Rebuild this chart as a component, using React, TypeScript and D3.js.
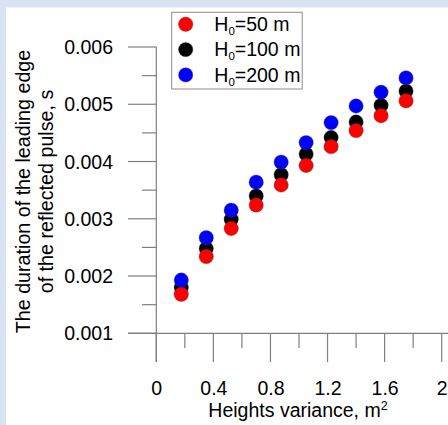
import React, { useEffect, useRef } from "react";
import * as d3 from "d3";

const xValues = [0.175, 0.35, 0.525, 0.7, 0.875, 1.05, 1.225, 1.4, 1.575, 1.75];
const h50 = [0.00168, 0.00234, 0.00283, 0.00324, 0.00359, 0.00393, 0.00426, 0.00454, 0.0048, 0.00506];
const h100 = [0.0018, 0.00248, 0.00299, 0.0034, 0.00377, 0.00413, 0.00442, 0.00469, 0.00498, 0.00523];
const h200 = [0.00193, 0.00267, 0.00315, 0.00364, 0.00399, 0.00433, 0.00468, 0.00497, 0.00521, 0.00546];
const seriesNames = ["50", "100", "200"];
const seriesColors = ["#ff0000", "#000000", "#0000ff"];
const xTicks = [0, 0.4, 0.8, 1.2, 1.6, 2];
const xMinorTicks = [0.2, 0.6, 1.0, 1.4, 1.8];
const yTicks = [0.001, 0.002, 0.003, 0.004, 0.005, 0.006];
const yMinorTicks = [0.0015, 0.0025, 0.0035, 0.0045, 0.0055];

const W = 448;
const H = 425;
const FONT = "Arial, 'Liberation Sans', sans-serif";

export default function App() {
  const ref = useRef<SVGSVGElement>(null);

  useEffect(() => {
    const svg = d3.select(ref.current);
    svg.selectAll("*").remove();

    svg.append("rect").attr("width", W).attr("height", H).attr("fill", "#dae3f3");
    svg.append("rect").attr("x", 6).attr("y", 7.5).attr("width", W - 6).attr("height", H - 7.5).attr("fill", "#ffffff");

    const x = d3.scaleLinear().domain([0, 2]).range([156.3, 441.7]);
    const y = d3.scaleLinear().domain([0.001, 0.006]).range([333.3, 47]);
    const axisColor = "#7f7f7f";

    const g = svg.append("g");
    g.append("line").attr("x1", x(0)).attr("x2", x(0)).attr("y1", y(0.006)).attr("y2", 362)
      .attr("stroke", axisColor).attr("stroke-width", 1.2);
    g.append("line").attr("x1", 128).attr("x2", 448).attr("y1", y(0.001)).attr("y2", y(0.001))
      .attr("stroke", axisColor).attr("stroke-width", 1.2);

    yTicks.forEach((t) => {
      g.append("line").attr("x1", 128).attr("x2", x(0)).attr("y1", y(t)).attr("y2", y(t))
        .attr("stroke", axisColor).attr("stroke-width", 1.2);
      g.append("text").attr("x", 113).attr("y", y(t)).attr("dy", "0.36em")
        .attr("text-anchor", "end").attr("font-family", FONT).attr("font-size", 19.5).attr("fill", "#000")
        .text(d3.format(".3f")(t));
    });
    yMinorTicks.forEach((t) => {
      g.append("line").attr("x1", 142).attr("x2", x(0)).attr("y1", y(t)).attr("y2", y(t))
        .attr("stroke", axisColor).attr("stroke-width", 1.2);
    });
    xTicks.forEach((t) => {
      g.append("line").attr("x1", x(t)).attr("x2", x(t)).attr("y1", y(0.001)).attr("y2", 362)
        .attr("stroke", axisColor).attr("stroke-width", 1.2);
      g.append("text").attr("x", x(t) + 0.5).attr("y", 394.5)
        .attr("text-anchor", "middle").attr("font-family", FONT).attr("font-size", 19.5).attr("fill", "#000")
        .text(String(t));
    });
    xMinorTicks.forEach((t) => {
      g.append("line").attr("x1", x(t)).attr("x2", x(t)).attr("y1", y(0.001)).attr("y2", 348)
        .attr("stroke", axisColor).attr("stroke-width", 1.2);
    });

    const xt = g.append("text").attr("x", 298).attr("y", 416.5).attr("text-anchor", "middle")
      .attr("font-family", FONT).attr("font-size", 19.5).attr("fill", "#000");
    xt.append("tspan").text("Heights variance, m");
    xt.append("tspan").attr("font-size", 12.5).attr("dy", -7).text("2");

    const yt = g.append("g").attr("transform", "translate(30,191.5) rotate(-90)");
    yt.append("text").attr("x", 0).attr("y", 0).attr("text-anchor", "middle")
      .attr("font-family", FONT).attr("font-size", 19.7).attr("fill", "#000")
      .text("The duration of the leading edge");
    yt.append("text").attr("x", 0).attr("y", 23).attr("text-anchor", "middle")
      .attr("font-family", FONT).attr("font-size", 19.7).attr("fill", "#000")
      .text("of the reflected pulse, s");

    const series = [h50, h100, h200];
    const order = [1, 2, 0];
    order.forEach((si) => {
      g.append("g").selectAll("circle").data(series[si]).enter().append("circle")
        .attr("cx", (_d, i) => x(xValues[i]))
        .attr("cy", (d) => y(d))
        .attr("r", 7.2)
        .attr("fill", seriesColors[si])
        .attr("stroke", "#444")
        .attr("stroke-opacity", 0.5)
        .attr("stroke-width", 0.7);
    });

    const lg = g.append("g");
    lg.append("rect").attr("x", 171.7).attr("y", 12.3).attr("width", 130.5).attr("height", 76.7)
      .attr("fill", "#fff").attr("stroke", "#8c8c8c").attr("stroke-width", 1);
    seriesNames.forEach((name, i) => {
      const cy = 24.3 + i * 25.3;
      lg.append("circle").attr("cx", 185.7).attr("cy", cy).attr("r", 7.2)
        .attr("fill", seriesColors[i]).attr("stroke", "#444").attr("stroke-opacity", 0.5).attr("stroke-width", 0.7);
      const t = lg.append("text").attr("x", 214.3).attr("y", cy + 6.8)
        .attr("font-family", FONT).attr("font-size", 19.5).attr("fill", "#000");
      t.append("tspan").text("H");
      t.append("tspan").attr("font-size", 11.5).attr("dy", 4).text("0");
      t.append("tspan").attr("dy", -4).text(`=${name} m`);
    });
  }, []);

  return (
    <svg
      ref={ref}
      width={W}
      height={H}
      style={{ position: "absolute", left: 0, top: 0, display: "block" }}
    />
  );
}
